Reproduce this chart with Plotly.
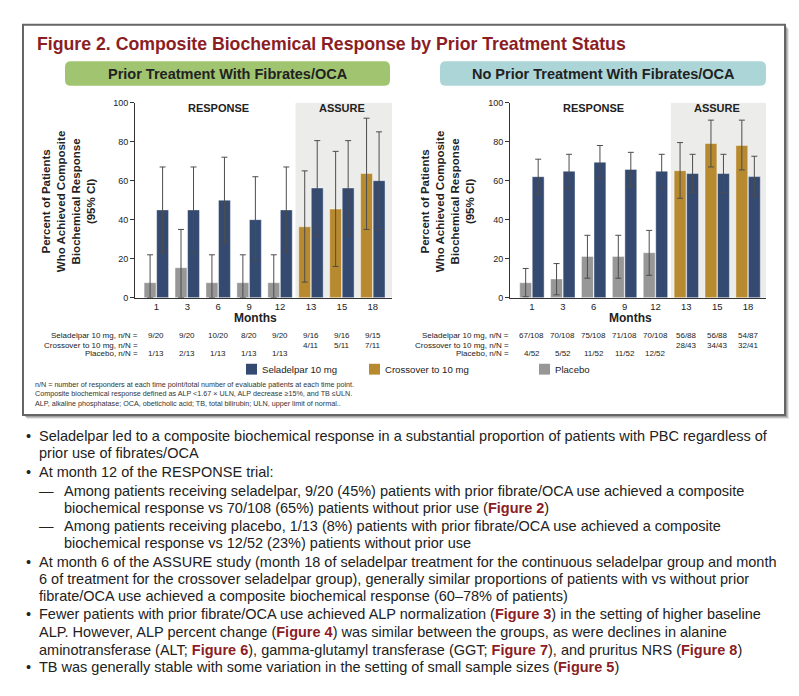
import plotly.graph_objects as go

W, H = 799, 696
def px(x): return x / W
def py(y): return 1 - y / H

FONT = "Arial, Liberation Sans, sans-serif"
BLUE = "#344a70"
GREY = "#979797"
GOLD = "#b88a2f"
RED = "#8b1d24"
TXT = "#222222"

months = ["1", "3", "6", "9", "12", "13", "15", "18"]
pos = list(range(len(months)))

# ---- Prior treatment with fibrates/OCA ----
L_sela_n = [9, 9, 10, 8, 9, 9, 9, 9]
L_sela_N = [20, 20, 20, 20, 20, 16, 16, 15]
L_sela_lo = [23, 23, 28, 19, 23, 32, 32, 35]
L_sela_hi = [67, 67, 72, 62, 67, 80.5, 80.5, 85]
L_cross_n = [4, 5, 7]
L_cross_N = [11, 11, 11]
L_cross_lo = [8, 16, 35]
L_cross_hi = [65, 75, 92]
L_plac_n = [1, 2, 1, 1, 1]
L_plac_N = [13, 13, 13, 13, 13]
L_plac_lo = [0, 0, 0, 0, 0]
L_plac_hi = [22, 35, 22, 22, 22]

# ---- No prior treatment with fibrates/OCA ----
R_sela_n = [67, 70, 75, 71, 70, 56, 56, 54]
R_sela_N = [108, 108, 108, 108, 108, 88, 88, 87]
R_sela_lo = [53, 56, 61, 57, 56, 54, 54, 52]
R_sela_hi = [71, 73.5, 78, 74.5, 73.5, 73.5, 73.5, 72.5]
R_cross_n = [28, 34, 32]
R_cross_N = [43, 43, 41]
R_cross_lo = [51, 67, 65.5]
R_cross_hi = [79.5, 91, 91]
R_plac_n = [4, 5, 11, 11, 12]
R_plac_N = [52, 52, 52, 52, 52]
R_plac_lo = [0.5, 1.5, 10, 10, 11.5]
R_plac_hi = [15, 17.5, 32, 32, 34.5]

panels = [
    dict(xa="x", ya="y", xdom=(135, 392), sela=(L_sela_n, L_sela_N, L_sela_lo, L_sela_hi),
         cross=(L_cross_n, L_cross_N, L_cross_lo, L_cross_hi),
         plac=(L_plac_n, L_plac_N, L_plac_lo, L_plac_hi),
         header="Prior Treatment With Fibrates/OCA", hcol="#a0c46f", hx=(65, 390),
         ytitle_x=68, months_x=255, label_x=140),
    dict(xa="x2", ya="y2", xdom=(510, 766), sela=(R_sela_n, R_sela_N, R_sela_lo, R_sela_hi),
         cross=(R_cross_n, R_cross_N, R_cross_lo, R_cross_hi),
         plac=(R_plac_n, R_plac_N, R_plac_lo, R_plac_hi),
         header="No Prior Treatment With Fibrates/OCA", hcol="#acd5d7", hx=(440, 766),
         ytitle_x=447, months_x=630, label_x=511),
]

fig = go.Figure()
shapes, annos = [], []

def txt(x, y, text, size, color=TXT, xanchor="center", xref="paper", **kw):
    d = dict(xref=xref, yref="paper", x=x, y=y, text=text, showarrow=False, xanchor=xanchor,
             yanchor="middle", font=dict(family=FONT, size=size, color=color))
    d.update(kw)
    return d

# outer box with shadow
for i, a in [(4, 0.15), (3, 0.25), (2, 0.35)]:
    shapes.append(dict(type="rect", xref="paper", yref="paper", x0=px(23 + i), x1=px(785 + i),
                       y0=py(416 + i), y1=py(20 + i), line=dict(width=0),
                       fillcolor=f"rgba(90,90,90,{a})", layer="below"))
shapes.append(dict(type="rect", xref="paper", yref="paper", x0=px(23), x1=px(785),
                   y0=py(416), y1=py(20), line=dict(color="#666666", width=2),
                   fillcolor="white", layer="below"))

annos.append(txt(px(35), py(40), "<b>Figure 2. Composite Biochemical Response by Prior Treatment Status</b>",
                 17.7, RED, xanchor="left"))

def rrect(x0, y0, x1, y1, r):
    rx, ry = r / W, r / H
    X0, X1, Y0, Y1 = px(x0), px(x1), py(y1), py(y0)
    return (f"M{X0+rx},{Y0} L{X1-rx},{Y0} Q{X1},{Y0} {X1},{Y0+ry} L{X1},{Y1-ry} "
            f"Q{X1},{Y1} {X1-rx},{Y1} L{X0+rx},{Y1} Q{X0},{Y1} {X0},{Y1-ry} "
            f"L{X0},{Y0+ry} Q{X0},{Y0} {X0+rx},{Y0} Z")

for k, p in enumerate(panels):
    sfx = "" if k == 0 else "2"
    sn, sN, slo, shi = p["sela"]
    cn, cN, clo, chi = p["cross"]
    pn, pN, plo, phi = p["plac"]
    sv = [a / b * 100 for a, b in zip(sn, sN)]
    cv = [a / b * 100 for a, b in zip(cn, cN)]
    pv = [a / b * 100 for a, b in zip(pn, pN)]
    ebar = dict(type="data", symmetric=False, color="#4d4d4d", thickness=1, width=3)
    mline = dict(color="rgba(255,255,255,0.7)", width=0.6)
    fig.add_trace(go.Bar(x=pos[:5], y=pv, offset=-0.395, width=0.385, marker=dict(color=GREY, line=mline),
                         error_y=dict(ebar, array=[h - v for h, v in zip(phi, pv)],
                                      arrayminus=[v - l for l, v in zip(plo, pv)]),
                         xaxis=p["xa"], yaxis=p["ya"], showlegend=False, name="Placebo"))
    fig.add_trace(go.Bar(x=pos[5:], y=cv, offset=-0.395, width=0.385, marker=dict(color=GOLD, line=mline),
                         error_y=dict(ebar, array=[h - v for h, v in zip(chi, cv)],
                                      arrayminus=[v - l for l, v in zip(clo, cv)]),
                         xaxis=p["xa"], yaxis=p["ya"], showlegend=False, name="Crossover to 10 mg"))
    fig.add_trace(go.Bar(x=pos, y=sv, offset=0.01, width=0.385, marker=dict(color=BLUE, line=mline),
                         error_y=dict(ebar, array=[h - v for h, v in zip(shi, sv)],
                                      arrayminus=[v - l for l, v in zip(slo, sv)]),
                         xaxis=p["xa"], yaxis=p["ya"], showlegend=False, name="Seladelpar 10 mg"))

    x0, x1 = p["xdom"]
    xr = [-0.69, 7.62] if k == 0 else [-0.71, 7.58]
    fig.update_layout(**{
        f"xaxis{sfx}": dict(domain=[px(x0), px(x1)], range=xr, anchor=p["ya"], tickvals=pos,
                            ticktext=months, showline=True, linecolor="#333", linewidth=1,
                            ticks="", showgrid=False, zeroline=False, fixedrange=True,
                            tickfont=dict(family=FONT, size=9.5, color=TXT)),
        f"yaxis{sfx}": dict(domain=[py(297), py(99)], range=[0, 100], anchor=p["xa"],
                            tickvals=[0, 20, 40, 60, 80, 100], ticks="outside", ticklen=4,
                            tickcolor="#333", showline=True, linecolor="#333", linewidth=1,
                            showgrid=False, zeroline=False, fixedrange=True,
                            tickfont=dict(family=FONT, size=9, color=TXT)),
    })
    shapes.append(dict(type="rect", xref=p["xa"], yref=p["ya"], x0=4.5, x1=xr[1], y0=0, y1=100,
                       fillcolor="#ecedeb", line=dict(width=0), layer="below"))
    annos.append(dict(xref=p["xa"], yref=p["ya"], x=2, y=97, text="<b>RESPONSE</b>", showarrow=False,
                      xanchor="center", yanchor="middle", font=dict(family=FONT, size=11, color=TXT)))
    annos.append(dict(xref=p["xa"], yref=p["ya"], x=6, y=97, text="<b>ASSURE</b>", showarrow=False,
                      xanchor="center", yanchor="middle", font=dict(family=FONT, size=11, color=TXT)))
    hx0, hx1 = p["hx"]
    shapes.append(dict(type="path", xref="paper", yref="paper", path=rrect(hx0, 57, hx1, 82, 6),
                       fillcolor=p["hcol"], line=dict(width=0)))
    annos.append(txt(px((hx0 + hx1) / 2), py(69.5), f"<b>{p['header']}</b>", 14.5))
    annos.append(txt(px(p["ytitle_x"]), py(200),
                     "<b>Percent of Patients<br>Who Achieved Composite<br>Biochemical Response<br>(95% CI)</b>",
                     11.5, textangle=-90))
    annos.append(txt(px(p["months_x"]), py(318), "<b>Months</b>", 12))
    rows = [("Seladelpar 10 mg, n/N =", pos, [f"{a}/{b}" for a, b in zip(sn, sN)], 335),
            ("Crossover to 10 mg, n/N =", pos[5:], [f"{a}/{b}" for a, b in zip(cn, cN)], 345),
            ("Placebo, n/N =", pos[:5], [f"{a}/{b}" for a, b in zip(pn, pN)], 354)]
    for lab, xs, vals, yy in rows:
        annos.append(txt(px(p["label_x"]), py(yy), lab, 8, xanchor="right"))
        for xv, t in zip(xs, vals):
            annos.append(txt(xv, py(yy), t, 8, xref=p["xa"]))

for x0, col, lab in [(246, BLUE, "Seladelpar 10 mg"), (369, GOLD, "Crossover to 10 mg"), (539, GREY, "Placebo")]:
    shapes.append(dict(type="rect", xref="paper", yref="paper", x0=px(x0), x1=px(x0 + 11),
                       y0=py(375), y1=py(364), fillcolor=col, line=dict(width=0)))
    annos.append(txt(px(x0 + 14), py(369.5), lab, 9.6, xanchor="left"))

foot = ["n/N = number of responders at each time point/total number of evaluable patients at each time point.",
        "Composite biochemical response defined as ALP <1.67 × ULN, ALP decrease ≥15%, and TB ≤ULN.",
        "ALP, alkaline phosphatase; OCA, obeticholic acid; TB, total bilirubin; ULN, upper limit of normal.."]
annos.append(txt(px(33), py(394.5), "<br>".join(foot), 7.2, "#333", xanchor="left", align="left"))

def fig_ref(n):
    return f"<span style='color:{RED}'><b>Figure {n}</b></span>"

bullets = [
    ("•", 0, 437, "Seladelpar led to a composite biochemical response in a substantial proportion of patients with PBC regardless of"),
    ("", 0, 455, "prior use of fibrates/OCA"),
    ("•", 0, 474, "At month 12 of the RESPONSE trial:"),
    ("—", 1, 493, "Among patients receiving seladelpar, 9/20 (45%) patients with prior fibrate/OCA use achieved a composite"),
    ("", 1, 510, f"biochemical response vs 70/108 (65%) patients without prior use ({fig_ref(2)})"),
    ("—", 1, 529, "Among patients receiving placebo, 1/13 (8%) patients with prior fibrate/OCA use achieved a composite"),
    ("", 1, 546, "biochemical response vs 12/52 (23%) patients without prior use"),
    ("•", 0, 565, "At month 6 of the ASSURE study (month 18 of seladelpar treatment for the continuous seladelpar group and month"),
    ("", 0, 582, "6 of treatment for the crossover seladelpar group), generally similar proportions of patients with vs without prior"),
    ("", 0, 600, "fibrate/OCA use achieved a composite biochemical response (60–78% of patients)"),
    ("•", 0, 618, f"Fewer patients with prior fibrate/OCA use achieved ALP normalization ({fig_ref(3)}) in the setting of higher baseline"),
    ("", 0, 636, f"ALP. However, ALP percent change ({fig_ref(4)}) was similar between the groups, as were declines in alanine"),
    ("", 0, 654, f"aminotransferase (ALT; {fig_ref(6)}), gamma-glutamyl transferase (GGT; {fig_ref(7)}), and pruritus NRS ({fig_ref(8)})"),
    ("•", 0, 672, f"TB was generally stable with some variation in the setting of small sample sizes ({fig_ref(5)})"),
]
for mark, lvl, yy, t in bullets:
    if mark:
        mx = 24 if lvl == 0 else 37
        annos.append(txt(px(mx), py(yy), mark, 14.5, xanchor="left"))
    tx = 37 if lvl == 0 else 62
    annos.append(txt(px(tx), py(yy), t, 14.5, xanchor="left"))

fig.update_layout(width=W, height=H, autosize=False, margin=dict(l=0, r=0, t=0, b=0),
                  paper_bgcolor="white", plot_bgcolor="rgba(0,0,0,0)", barmode="overlay",
                  shapes=shapes, annotations=annos, showlegend=False,
                  font=dict(family=FONT, color=TXT))
fig.write_html("out.html", config={"displayModeBar": False},
               post_script=("document.documentElement.style.overflow='hidden';"
                            "document.documentElement.style.height='696px';"
                            "document.body.style.margin='0';"
                            "document.body.style.height='696px';"
                            "document.body.style.overflow='hidden';"))
